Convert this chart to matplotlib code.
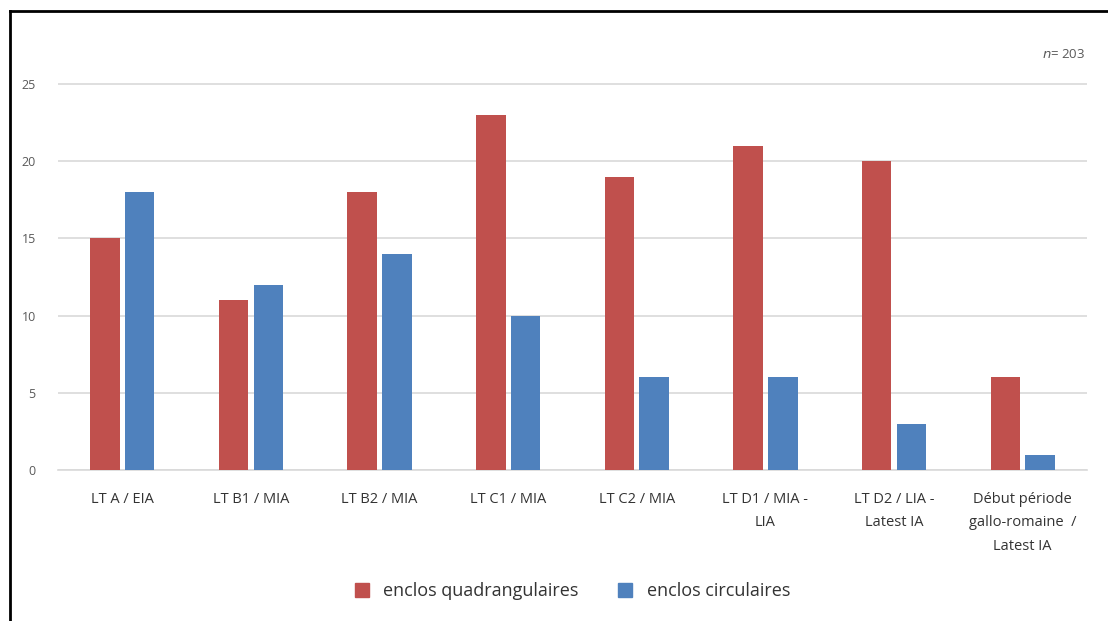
import numpy as np
import matplotlib.pyplot as plt
from matplotlib.lines import Line2D

# Data
categories = ["LT A / EIA", "LT B1 / MIA", "LT B2 / MIA", "LT C1 / MIA", "LT C2 / MIA",
              "LT D1 / MIA -\nLIA", "LT D2 / LIA -\nLatest IA",
              "Début période\ngallo-romaine  /\nLatest IA"]
quadrangulaires = [15, 11, 18, 23, 19, 21, 20, 6]
circulaires = [18, 12, 14, 10, 6, 6, 3, 1]

red = "#C0504D"
blue = "#4F81BD"
grey = "#595959"

plt.rcParams['font.family'] = ['Open Sans', 'DejaVu Sans']

fig = plt.figure(figsize=(11.08, 6.21), dpi=100)
ax = fig.add_axes([58 / 1108, 1 - 470 / 621, (1087 - 58) / 1108, (470 - 76.3) / 621])

x = np.arange(len(categories))
w = 0.23
ax.bar(x - 0.135, quadrangulaires, w, color=red, label="enclos quadrangulaires", zorder=3)
ax.bar(x + 0.135, circulaires, w, color=blue, label="enclos circulaires", zorder=3)

ax.set_xlim(-0.5, len(categories) - 0.5)
ax.set_ylim(0, 25.5)
ax.set_yticks(range(0, 26, 5))
ax.yaxis.grid(True, color="#d9d9d9", linewidth=1.2, zorder=0)
ax.set_axisbelow(True)
for s in ["top", "right", "left"]:
    ax.spines[s].set_visible(False)
ax.spines["bottom"].set_color("#d9d9d9")
ax.spines["bottom"].set_linewidth(1.2)

ax.set_xticks(x)
ax.set_xticklabels(categories, fontsize=10.5, color="#333333", linespacing=1.75)
ax.tick_params(axis="x", length=0, pad=16)
ax.tick_params(axis="y", length=0, pad=16, labelsize=9, labelcolor=grey)

fig.text(1085 / 1108, 1 - 55 / 621, r"$\it{n}$= 203", ha="right", va="center",
         fontsize=9.5, color=grey)

handles = [Line2D([], [], marker="s", linestyle="none", markersize=10, color=red),
           Line2D([], [], marker="s", linestyle="none", markersize=10, color=blue)]
fig.legend(handles, ["enclos quadrangulaires", "enclos circulaires"], loc="center",
           bbox_to_anchor=(567 / 1108, 1 - 591 / 621), ncol=2, frameon=False,
           fontsize=13, handletextpad=0.2, columnspacing=1.6, labelcolor="#333333")

# frame of the original figure (left and top edges)
fig.add_artist(Line2D([10 / 1108, 10 / 1108], [0, 1 - 11 / 621], color="black", linewidth=2))
fig.add_artist(Line2D([10 / 1108, 1], [1 - 11 / 621, 1 - 11 / 621], color="black", linewidth=2))

fig.savefig("out.png", dpi=100)
